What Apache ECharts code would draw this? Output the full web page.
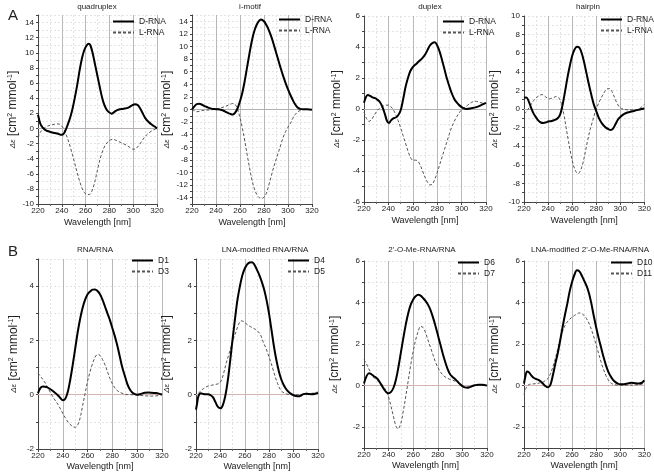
<!DOCTYPE html>
<html><head><meta charset="utf-8">
<script src="https://cdn.jsdelivr.net/npm/echarts@6/dist/echarts.min.js"></script>
<style>html,body{margin:0;padding:0;background:#fff}#c{width:654px;height:473px}</style>
</head><body><div id="c"></div>
<script>
// ---------- DATA (wavelength nm, Δε) ----------
const quadD = [[220,1.8],[222,0.6],[224,0.1],[226,-0.2],[228,-0.35],[231,-0.5],[234,-0.6],[237,-0.7],[239,-0.85],[241,-0.8],[243,-0.3],[245,0.5],[247,1.4],[249,2.6],[251,4.1],[253,5.8],[255,7.7],[257,9.3],[259,10.4],[261,11.0],[262.5,11.2],[264,11.0],[266,9.9],[268,8.4],[270,6.9],[272,5.4],[274,4.0],[276,3.0],[278,2.4],[280,2.1],[282,1.95],[285,2.3],[288,2.5],[292,2.6],[296,2.75],[299,3.05],[301.5,3.2],[304,3.05],[306,2.6],[308,2.0],[310,1.4],[313,0.85],[316,0.45],[318,0.25],[320,0.0]];
const quadL = [[220,-1.2],[222,-0.5],[225,0.0],[228,0.3],[231,0.45],[234,0.55],[237,0.6],[239,0.45],[241,0.1],[243,-0.6],[245,-1.4],[247,-2.4],[249,-3.5],[251,-4.7],[253,-5.9],[255,-7.0],[257,-7.9],[259,-8.5],[261,-8.7],[263,-8.75],[265,-8.4],[267,-7.5],[269,-6.2],[271,-4.8],[273,-3.6],[275,-2.7],[277,-2.1],[280,-1.6],[283,-1.45],[286,-1.6],[290,-1.9],[294,-2.2],[298,-2.6],[300,-2.75],[302,-2.7],[305,-2.2],[308,-1.5],[311,-0.9],[314,-0.5],[317,-0.2],[320,0.0]];
const imotD = [[220,0.0],[222,0.5],[224,0.85],[226,0.9],[228,0.8],[231,0.5],[234,0.25],[237,0.1],[240,0.05],[243,0.0],[246,-0.15],[249,-0.45],[252,-0.7],[254,-0.8],[256,-0.5],[258,0.2],[260,1.3],[262,2.7],[264,4.6],[266,6.8],[268,9.0],[270,11.0],[272,12.5],[274,13.5],[276,14.1],[277.5,14.3],[280,14.0],[282,13.4],[284,12.6],[286,11.6],[288,10.4],[290,9.1],[292,7.8],[294,6.5],[296,5.3],[298,4.2],[300,3.2],[302,2.3],[304,1.5],[306,0.8],[308,0.3],[310,0.1],[313,0.05],[316,0.05],[320,-0.05]];
const imotL = [[220,0.0],[222,-0.2],[224,-0.35],[226,-0.3],[229,-0.15],[232,-0.1],[236,-0.05],[240,0.05],[244,0.25],[248,0.5],[251,0.75],[254,0.95],[256,0.8],[258,0.0],[260,-1.3],[262,-3.0],[264,-5.0],[266,-7.2],[268,-9.3],[270,-11.2],[272,-12.6],[274,-13.5],[276,-14.0],[278.5,-14.1],[280,-13.9],[282,-13.3],[284,-12.0],[286,-10.6],[288,-9.2],[290,-8.0],[292,-6.8],[294,-5.6],[296,-4.4],[298,-3.5],[300,-2.8],[302,-2.2],[304,-1.4],[306,-0.8],[308,-0.4],[310,-0.15],[313,-0.03],[316,0.0],[320,0.0]];
const duplexD = [[220,0.4],[221.5,0.75],[223,0.9],[225,0.85],[227,0.75],[229,0.7],[231,0.6],[233,0.45],[235,0.15],[237,-0.3],[239,-0.8],[240.5,-0.9],[242,-0.75],[244,-0.6],[246,-0.55],[248,-0.4],[250,-0.1],[252,0.6],[254,1.4],[256,2.0],[258,2.45],[260,2.7],[262,2.85],[264,3.0],[266,3.15],[268,3.3],[270,3.5],[272,3.8],[274,4.1],[276,4.25],[278,4.3],[280,4.1],[282,3.7],[284,3.15],[286,2.55],[288,1.95],[290,1.45],[292,1.0],[294,0.65],[296,0.42],[298,0.25],[301,0.08],[304,0.0],[308,0.05],[312,0.12],[316,0.25],[320,0.4]];
const duplexL = [[220,-0.2],[222,-0.6],[224,-0.8],[226,-0.7],[228,-0.45],[230,-0.2],[232,0.0],[234,0.1],[236,0.2],[238,0.25],[240,0.25],[242,0.15],[244,-0.05],[246,-0.35],[248,-0.75],[250,-1.2],[252,-1.7],[254,-2.2],[256,-2.7],[258,-3.1],[260,-3.3],[262,-3.3],[264,-3.35],[266,-3.6],[268,-4.0],[270,-4.4],[272,-4.7],[274,-4.9],[276,-4.85],[278,-4.55],[280,-4.1],[282,-3.6],[284,-3.1],[286,-2.6],[288,-2.1],[290,-1.6],[292,-1.15],[294,-0.8],[296,-0.5],[298,-0.25],[300,-0.05],[302,0.05],[305,0.25],[308,0.42],[311,0.5],[314,0.45],[317,0.38],[320,0.35]];
const hairD = [[220,1.2],[222,1.25],[224,0.8],[226,0.1],[228,-0.5],[230,-0.9],[232,-1.25],[234,-1.45],[236,-1.5],[238,-1.45],[240,-1.35],[243,-1.3],[246,-1.15],[248,-1.0],[250,-0.6],[252,0.4],[254,1.8],[256,3.3],[258,4.6],[260,5.7],[262,6.4],[264,6.7],[266,6.6],[268,6.0],[270,5.0],[272,3.8],[274,2.6],[276,1.5],[278,0.5],[280,-0.2],[282,-0.9],[284,-1.4],[286,-1.75],[288,-2.0],[290,-2.15],[292,-2.25],[294,-2.1],[296,-1.65],[298,-1.15],[300,-0.85],[303,-0.55],[306,-0.38],[310,-0.25],[314,-0.12],[318,0.0],[320,0.05]];
const hairL = [[220,-0.5],[222,-0.3],[225,0.3],[228,0.9],[232,1.4],[235,1.55],[238,1.3],[241,1.1],[244,1.2],[247,1.35],[249,1.2],[251,0.6],[253,-0.5],[255,-2.0],[257,-3.5],[259,-4.9],[261,-6.0],[263,-6.7],[265,-6.95],[267,-6.6],[269,-5.8],[271,-4.6],[273,-3.3],[275,-2.2],[277,-1.3],[279,-0.4],[281,0.3],[283,0.9],[285,1.4],[287,1.85],[289,2.15],[291,2.2],[293,1.9],[295,1.3],[297,0.7],[299,0.25],[301,0.05],[304,-0.05],[308,-0.1],[312,-0.1],[315,-0.05],[318,0.25],[320,0.5]];
const rnaD1 = [[220,0.05],[222,0.25],[224,0.3],[227,0.28],[230,0.2],[233,0.1],[236,-0.02],[238,-0.12],[240,-0.2],[242,-0.15],[244,0.1],[246,0.55],[248,1.1],[250,1.7],[252,2.3],[254,2.8],[256,3.2],[258,3.5],[260,3.7],[262,3.8],[264,3.87],[266,3.88],[268,3.82],[270,3.7],[272,3.5],[274,3.25],[276,3.0],[278,2.75],[280,2.45],[282,2.15],[284,1.8],[286,1.4],[288,1.0],[290,0.7],[292,0.4],[294,0.2],[296,0.08],[298,0.02],[300,0.0],[303,0.03],[306,0.07],[309,0.08],[312,0.07],[315,0.06],[318,0.03],[320,0.0]];
const rnaD3 = [[220,0.8],[223,0.62],[226,0.42],[228,0.25],[230,0.08],[233,-0.15],[236,-0.35],[239,-0.6],[242,-0.85],[245,-1.05],[248,-1.17],[250,-1.2],[252,-1.12],[254,-0.85],[256,-0.4],[258,0.05],[260,0.5],[262,0.85],[264,1.15],[266,1.38],[268,1.48],[270,1.45],[272,1.3],[274,1.1],[276,0.85],[278,0.6],[280,0.4],[282,0.25],[284,0.15],[287,0.07],[290,0.02],[294,0.0],[298,0.0],[302,-0.02],[306,-0.04],[310,-0.05],[314,-0.05],[317,-0.03],[320,0.03]];
const lnaD4 = [[220,-0.55],[221,-0.3],[222,-0.05],[224,0.05],[226,0.03],[228,0.02],[230,0.02],[232,-0.02],[234,-0.1],[236,-0.28],[238,-0.45],[240,-0.5],[242,-0.38],[244,-0.05],[246,0.5],[248,1.25],[250,2.05],[252,2.8],[254,3.5],[256,4.0],[258,4.4],[260,4.65],[262,4.8],[264,4.87],[266,4.88],[268,4.78],[270,4.6],[272,4.4],[274,4.15],[276,3.85],[278,3.45],[280,2.95],[282,2.35],[284,1.75],[286,1.25],[288,0.85],[290,0.55],[292,0.35],[294,0.2],[296,0.1],[298,0.03],[300,-0.02],[302,-0.05],[304,-0.06],[306,-0.03],[308,0.02],[310,0.04],[312,0.03],[315,0.02],[318,0.04],[320,0.07]];
const lnaD5 = [[222,0.05],[224,0.15],[226,0.22],[228,0.28],[230,0.32],[233,0.35],[236,0.38],[239,0.42],[241,0.55],[243,0.85],[245,1.2],[247,1.5],[249,1.8],[251,2.1],[253,2.35],[255,2.6],[257,2.72],[259,2.7],[261,2.62],[263,2.55],[265,2.5],[267,2.45],[269,2.4],[271,2.32],[273,2.2],[275,1.95],[277,1.75],[279,1.5],[281,1.25],[283,0.95],[285,0.65],[287,0.4],[289,0.2],[291,0.1],[294,0.03],[298,0.0],[302,0.0],[306,0.0],[310,0.03],[315,0.05],[320,0.1]];
const omeD6 = [[220,0.1],[222,0.45],[224,0.6],[226,0.55],[228,0.45],[230,0.38],[232,0.25],[234,0.05],[236,-0.15],[238,-0.3],[240,-0.37],[242,-0.3],[244,-0.1],[246,0.3],[248,0.9],[250,1.6],[252,2.3],[254,2.95],[256,3.5],[258,3.9],[260,4.15],[262,4.3],[264,4.37],[266,4.33],[268,4.22],[270,4.08],[272,3.9],[274,3.65],[276,3.3],[278,2.9],[280,2.45],[282,2.0],[284,1.55],[286,1.15],[288,0.8],[290,0.55],[292,0.42],[294,0.32],[296,0.2],[298,0.08],[300,-0.02],[302,-0.08],[304,-0.1],[306,-0.07],[308,-0.02],[310,0.02],[313,0.05],[316,0.05],[320,0.0]];
const omeD7 = [[220,1.25],[222,1.05],[224,0.8],[226,0.58],[228,0.4],[230,0.28],[232,0.18],[234,0.08],[236,-0.05],[238,-0.25],[240,-0.55],[242,-1.0],[244,-1.5],[246,-1.95],[247.5,-2.08],[250,-1.8],[252,-1.2],[254,-0.5],[256,0.25],[258,1.0],[260,1.65],[262,2.2],[264,2.6],[266,2.85],[268,2.8],[270,2.55],[272,2.2],[274,1.85],[276,1.5],[278,1.15],[280,0.88],[282,0.68],[284,0.52],[286,0.42],[288,0.35],[290,0.3],[292,0.27],[294,0.22],[296,0.15],[298,0.07],[300,-0.02],[302,-0.08],[304,-0.07],[307,-0.02],[310,0.0],[314,0.03],[317,0.04],[320,0.0]];
const lnaomeD10 = [[220,0.1],[221,0.4],[222.5,0.68],[224,0.65],[226,0.5],[228,0.38],[230,0.32],[232,0.28],[234,0.2],[236,0.08],[238,-0.03],[240,-0.08],[242,0.05],[244,0.5],[246,1.05],[248,1.55],[250,2.15],[252,2.8],[254,3.4],[256,3.95],[258,4.55],[260,5.0],[262,5.35],[264,5.55],[266,5.5],[268,5.3],[270,5.05],[272,4.8],[274,4.45],[276,3.95],[278,3.35],[280,2.8],[282,2.3],[284,1.85],[286,1.4],[288,1.0],[290,0.68],[292,0.45],[294,0.28],[296,0.17],[298,0.1],[300,0.07],[303,0.07],[306,0.1],[309,0.14],[312,0.12],[315,0.1],[318,0.14],[320,0.25]];
const lnaomeD11 = [[220,-0.42],[222,-0.08],[224,0.05],[227,0.08],[230,0.1],[233,0.13],[236,0.18],[238,0.25],[240,0.35],[242,0.58],[244,0.9],[246,1.3],[248,1.75],[250,2.2],[252,2.6],[254,2.88],[256,3.07],[258,3.2],[260,3.3],[262,3.38],[264,3.45],[266,3.5],[268,3.47],[270,3.38],[272,3.22],[274,3.0],[276,2.7],[278,2.35],[280,1.95],[282,1.55],[284,1.15],[286,0.8],[288,0.5],[290,0.28],[292,0.14],[294,0.07],[297,0.03],[300,0.02],[305,0.02],[310,0.03],[315,0.05],[320,0.1]];

const panelTitles = ['quadruplex','i-motif','duplex','hairpin','RNA/RNA','LNA-modified RNA/RNA',"2'-O-Me-RNA/RNA","LNA-modified 2'-O-Me-RNA/RNA"];
const seriesNames = [['D-RNA','L-RNA'],['D-RNA','L-RNA'],['D-RNA','L-RNA'],['D-RNA','L-RNA'],['D1','D3'],['D4','D5'],['D6','D7'],['D10','D11']];
const yRanges = [[-10,15],[-15,15],[-6,6],[-10,10],[-2,5],[-2,5],[-3,6],[-3,6]];
const xRange = [220,320];
const xLabel = 'Wavelength [nm]';
const curves = [[quadD,quadL],[imotD,imotL],[duplexD,duplexL],[hairD,hairL],[rnaD1,rnaD3],[lnaD4,lnaD5],[omeD6,omeD7],[lnaomeD10,lnaomeD11]];

// ---------- LAYOUT ----------
const grids = [
  {left:38,top:15,width:119,height:189},{left:192,top:15,width:120,height:189},
  {left:364,top:16,width:122,height:186},{left:524,top:16,width:122,height:186},
  {left:38,top:259,width:124,height:190},{left:196,top:259,width:122,height:190},
  {left:364,top:261,width:123,height:187},{left:524,top:261,width:122,height:187}
];
const yNameGap = [18,19,21,23,18,23,23,23];
const legendPos = [[112,17],[278,15],[442,17],[600,15],[131,256],[287,256],[457,258],[610,258]];
const titlePos = [[97,3],[250,3],[430,3],[588,3],[95,246],[265,246],[422,246],[590,246]];
const FONT = 'Liberation Sans, Arial, sans-serif';

const option = {
  animation:false, backgroundColor:'#fff',
  textStyle:{fontFamily:FONT},
  title: [
    {text:'A', left:3, top:3, textStyle:{fontSize:15, fontWeight:'normal', color:'#222', fontFamily:FONT}},
    {text:'B', left:3, top:239, textStyle:{fontSize:15, fontWeight:'normal', color:'#222', fontFamily:FONT}}
  ].concat(panelTitles.map((t,i)=>({text:t, left:titlePos[i][0], top:titlePos[i][1], textAlign:'center', padding:0,
      textStyle:{fontSize:8, fontWeight:'normal', color:'#222', fontFamily:FONT}}))),
  grid: grids,
  legend: seriesNames.map((n,i)=>({data:n, orient:'vertical', left:legendPos[i][0], top:legendPos[i][1],
      itemWidth:21, itemHeight:8, itemGap:2, padding:0, selectedMode:false,
      itemStyle:{opacity:0},
      textStyle:{fontSize:8.5, color:'#222', fontFamily:FONT}})),
  xAxis: grids.map((g,i)=>({type:'value', gridIndex:i, min:xRange[0], max:xRange[1], interval:20,
      name:xLabel, nameLocation:'middle', nameGap: i<4 ? 14 : 13,
      nameTextStyle:{fontSize:9, color:'#222', fontFamily:FONT},
      axisLine:{onZero:false, lineStyle:{color:'#444', width:1}},
      axisTick:{show:true, length:3, lineStyle:{color:'#444'}},
      minorTick:{show:true, splitNumber:2, length:2, lineStyle:{color:'#666'}},
      axisLabel:{fontSize:8, color:'#222', margin:3, fontFamily:FONT},
      splitLine:{show:true, lineStyle:{color:'#b8b8b8', width:1}},
      minorSplitLine:{show:true, lineStyle:{color:'#e2e2e2', width:1, type:[2,2]}}
  })),
  yAxis: grids.map((g,i)=>({type:'value', gridIndex:i, min:yRanges[i][0], max:yRanges[i][1], interval:1,
      name:'{d|Δε} {b|[cm}{s|2}{b| mmol}{s|-1}{b|]}', nameLocation:'middle', nameGap:yNameGap[i],
      nameTextStyle:{color:'#222', fontFamily:FONT, rich:{
        d:{fontSize:8, fontStyle:'italic', color:'#222', fontFamily:FONT},
        b:{fontSize:12, color:'#222', fontFamily:FONT},
        s:{fontSize:7, color:'#222', verticalAlign:'top', fontFamily:FONT}}},
      axisLine:{show:true, lineStyle:{color:'#444', width:1}},
      axisTick:{show:true, length:2, lineStyle:{color:'#444'}},
      axisLabel:{fontSize:8, color:'#222', margin:4, fontFamily:FONT,
        formatter:v=>(Math.round(v)%2===0 ? String(v) : '')},
      splitLine:{show:true, lineStyle:{color:'#e4e4e4', width:1, type:[2,2]}}
  })),
  series: []
};
curves.forEach((pair,i)=>{
  pair.forEach((d,j)=>{
    const s = {type:'line', name:seriesNames[i][j], xAxisIndex:i, yAxisIndex:i, data:d,
      symbol:'none', showSymbol:false, smooth:0.35, z: j===0?3:2,
      lineStyle: j===0 ? {color:'#000', width:2} : {color:'#555', width:1, type:[3,2]},
      itemStyle:{color: j===0 ? '#000' : '#555'}};
    if (j===0) {
      s.markLine = {silent:true, symbol:'none', z:1, label:{show:false},
        lineStyle:{color: i<4 ? '#b5aeae' : '#d6b4b4', width:1, type:'solid'},
        data:[{yAxis:0}]};
    }
    option.series.push(s);
  });
});
const chart = echarts.init(document.getElementById('c'), null, {renderer:'canvas'});
chart.setOption(option);
</script></body></html>
